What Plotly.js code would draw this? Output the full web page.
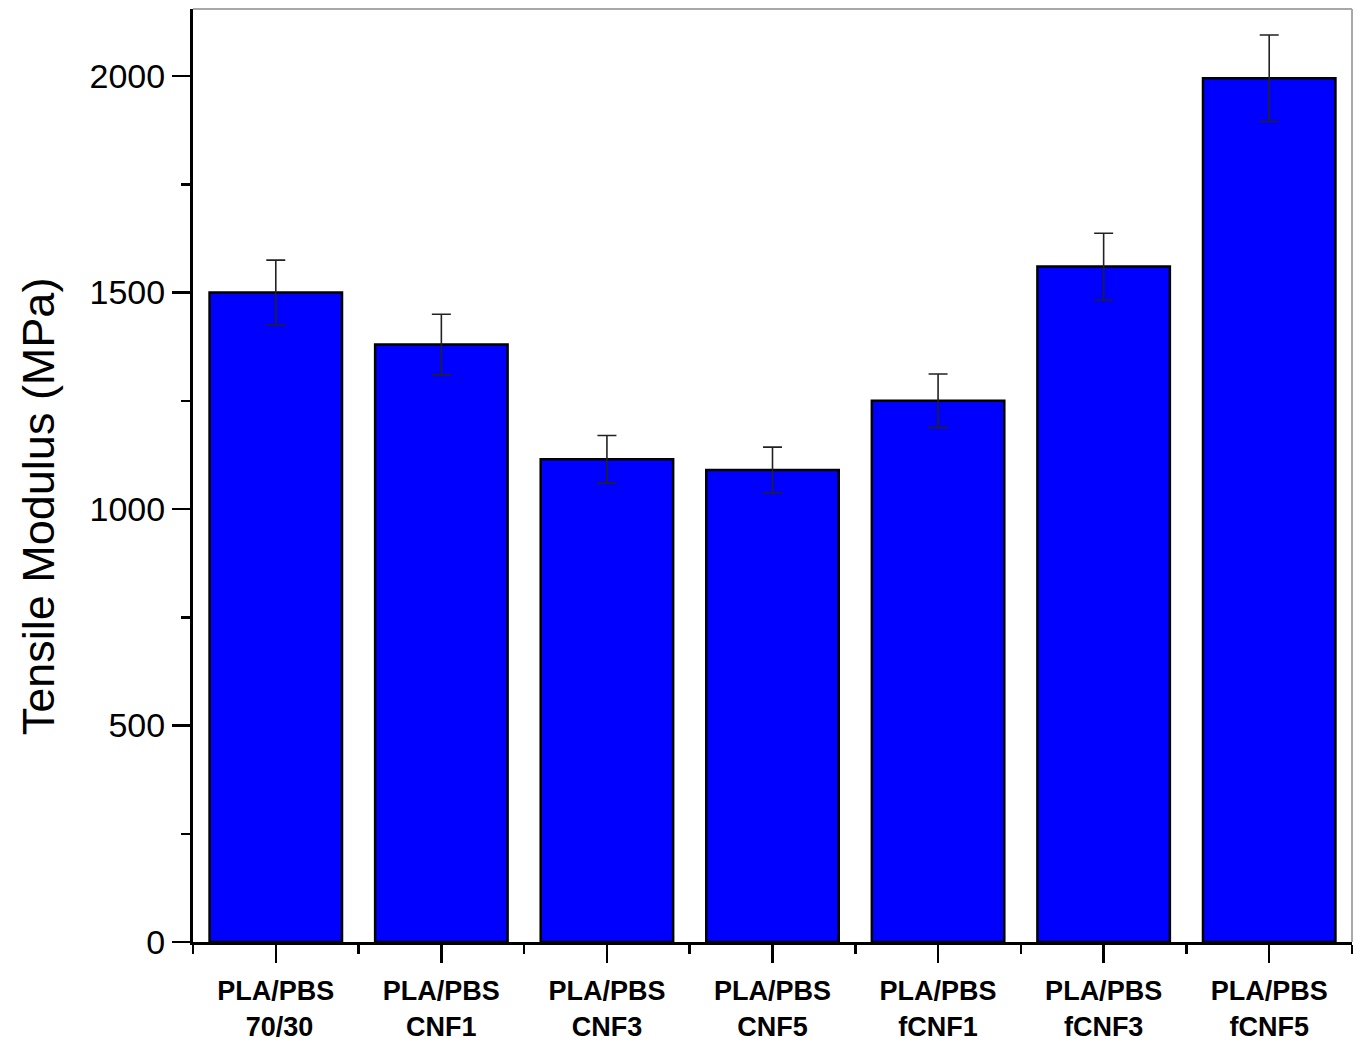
<!DOCTYPE html>
<html>
<head>
<meta charset="utf-8">
<script src="https://cdn.plot.ly/plotly-3.0.1.min.js"></script>
<style>html,body{margin:0;padding:0;background:#fff;}#chart{width:1366px;height:1052px;}</style>
</head>
<body>
<div id="chart"></div>
<script>
const categories = ["PLA/PBS<br> 70/30", "PLA/PBS<br>CNF1", "PLA/PBS<br>CNF3", "PLA/PBS<br>CNF5", "PLA/PBS<br>fCNF1", "PLA/PBS<br>fCNF3", "PLA/PBS<br>fCNF5"];
const modulus = [1500, 1380, 1115, 1090, 1250, 1560, 1995];
const modulusErr = [75, 70, 55, 53, 62, 77, 100];
const yTickVals = [0, 500, 1000, 1500, 2000];
const yTickText = ["0", "500", "1000", "1500", "2000"];
const yTitle = "Tensile Modulus (MPa)";

const xPos = categories.map((c, i) => i);

const trace = {
  type: 'bar',
  x: xPos,
  y: modulus,
  width: 0.8,
  marker: {color: '#0000ff', line: {color: '#000000', width: 2.5}},
  error_y: {type: 'data', array: modulusErr, visible: true, color: '#222222', thickness: 1.6, width: 9.5},
  hoverinfo: 'y'
};

const layout = {
  width: 1366, height: 1052,
  margin: {l: 193, r: 14, t: 9, b: 110},
  paper_bgcolor: '#ffffff', plot_bgcolor: '#ffffff',
  font: {family: 'Liberation Sans, Arial, sans-serif', color: '#000'},
  showlegend: false,
  xaxis: {
    range: [-0.5, 6.5],
    tickmode: 'array', tickvals: xPos, ticktext: categories,
    ticks: 'outside', ticklen: 18, tickwidth: 2.5, tickcolor: '#000',
    ticklabelstandoff: 5,
    tickfont: {family: 'Liberation Sans, Arial, sans-serif', size: 27, color: '#000', weight: 'bold'},
    showline: true, linecolor: '#000', linewidth: 3,
    showgrid: false, zeroline: false,
    minor: {tickmode: 'array', tickvals: [-0.5, 0.5, 1.5, 2.5, 3.5, 4.5, 5.5, 6.5], ticks: 'outside', ticklen: 9, tickwidth: 2.5, tickcolor: '#000', showgrid: false},
    fixedrange: true
  },
  yaxis: {
    range: [0, 2155],
    tickmode: 'array', tickvals: yTickVals, ticktext: yTickText,
    ticks: 'outside', ticklen: 18, tickwidth: 2.5, tickcolor: '#000',
    tickfont: {family: 'Liberation Sans, Arial, sans-serif', size: 34, color: '#000'},
    showline: true, linecolor: '#000', linewidth: 3,
    showgrid: false, zeroline: false,
    minor: {dtick: 250, tick0: 0, ticks: 'outside', ticklen: 9, tickwidth: 2.5, tickcolor: '#000', showgrid: false}
  },
  annotations: [
    {text: yTitle, xref: 'paper', yref: 'paper', x: 0, y: 0.467, xanchor: 'center', yanchor: 'middle',
     xshift: -155, textangle: -90, showarrow: false,
     font: {family: 'Liberation Sans, Arial, sans-serif', size: 45, color: '#000'}}
  ],
  shapes: [
    {type: 'line', xref: 'paper', yref: 'paper', x0: 0, x1: 1, y0: 1, y1: 1, line: {color: '#a8a8a8', width: 2}},
    {type: 'line', xref: 'paper', yref: 'paper', x0: 1, x1: 1, y0: 0, y1: 1, line: {color: '#a8a8a8', width: 2}}
  ]
};

Plotly.newPlot('chart', [trace], layout, {displayModeBar: false, staticPlot: true});
</script>
</body>
</html>
